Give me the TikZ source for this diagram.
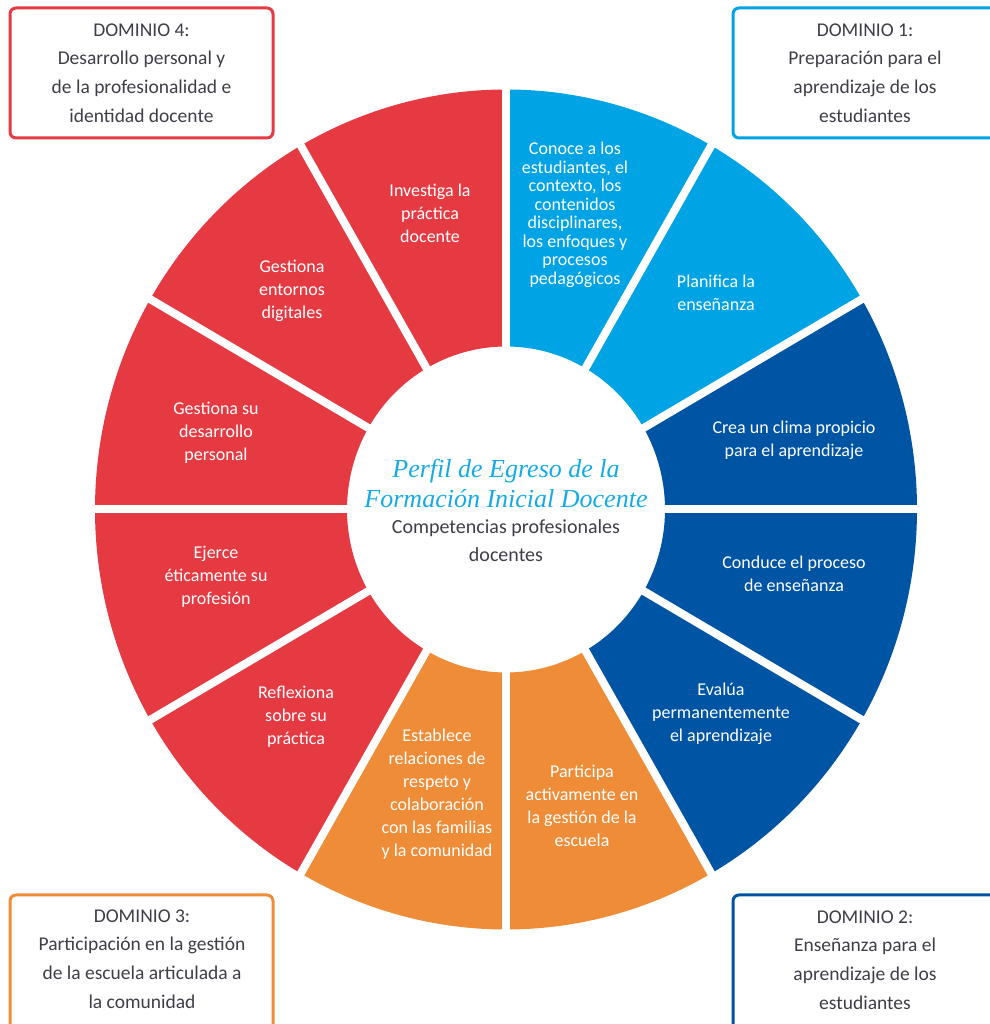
\documentclass[tikz,border=0pt]{standalone}
\usepackage{fontspec}
\setmainfont{Carlito}
\newfontfamily\titlefont{Liberation Serif}
\definecolor{cred}{RGB}{230,58,67}
\definecolor{clblue}{RGB}{0,163,228}
\definecolor{cdblue}{RGB}{0,84,164}
\definecolor{corange}{RGB}{239,140,55}
\definecolor{ctext}{RGB}{62,62,72}
\definecolor{ctitle}{RGB}{20,170,230}
\begin{document}
\begin{tikzpicture}[x=1pt,y=1pt,
  seg/.style={text=white,align=center,font=\fontsize{18}{23}\selectfont,inner sep=0pt},
  segtight/.style={seg,font=\fontsize{18}{18.5}\selectfont},
  dombox/.style={line width=3pt,rounded corners=6pt,fill=white},
  domtext/.style={text=ctext,align=center,font=\fontsize{19.5}{28.7}\selectfont,inner sep=0pt}]
\useasboundingbox (0,0) rectangle (989,1024);
\begin{scope}[shift={(506,514.5)}]
\foreach \s/\c in {0/clblue,1/clblue,2/cdblue,3/cdblue,4/cdblue,5/corange,6/corange,7/cred,8/cred,9/cred,10/cred,11/cred}{
  \pgfmathsetmacro\a{90-30*\s}
  \pgfmathsetmacro\b{60-30*\s}
  \fill[\c] (\a:411 and 420) arc[start angle=\a,end angle=\b,x radius=411,y radius=420]
     -- (\b:159 and 163) arc[start angle=\b,end angle=\a,x radius=159,y radius=163] -- cycle;
}
\foreach \s in {0,...,11}
  \draw[white,line width=8pt] (30*\s:150 and 154) -- (30*\s:420 and 430);
\end{scope}
% segment texts
\node[segtight] (conoce) at (575,809) {Conoce a los\\estudiantes, el\\contexto, los\\contenidos\\disciplinares,\\los enfoques y\\procesos\\pedagógicos};
\node[seg] (planifica) at (716,731) {Planifica la\\enseñanza};
\node[seg] (crea) at (794,584) {Crea un clima propicio\\para el aprendizaje};
\node[seg] (conduce) at (794,450) {Conduce el proceso\\de enseñanza};
\node[seg] (evalua) at (721,310) {Evalúa\\permanentemente\\el aprendizaje};
\node[seg] (participa) at (582,218) {Participa\\activamente en\\la gestión de la\\escuela};
\node[seg] (establece) at (437,230) {Establece\\relaciones de\\respeto y\\colaboración\\con las familias\\y la comunidad};
\node[seg] (reflexiona) at (296,307) {Reflexiona\\sobre su\\práctica};
\node[seg] (ejerce) at (216,447) {Ejerce\\éticamente su\\profesión};
\node[seg] (desarrollo) at (216,591) {Gestiona su\\desarrollo\\personal};
\node[seg] (entornos) at (292,733) {Gestiona\\entornos\\digitales};
\node[seg] (investiga) at (430,811) {Investiga la\\práctica\\docente};
% centre
\node[align=center,inner sep=0pt,text=ctitle,font=\titlefont\itshape\fontsize{26}{30}\selectfont] (title) at (506,541) {Perfil de Egreso de la\\Formación Inicial Docente};
\node[align=center,inner sep=0pt,text=ctext,font=\fontsize{20}{28}\selectfont] (sub) at (506,483) {Competencias profesionales\\docentes};
% domain boxes
\draw[dombox,draw=cred] (10,1016) rectangle (273,886);
\node[domtext] (d4) at (141.5,951) {DOMINIO 4:\\Desarrollo personal y\\de la profesionalidad e\\identidad docente};
\draw[dombox,draw=clblue] (733,1016) rectangle (997,886);
\node[domtext] (d1) at (865,951) {DOMINIO 1:\\Preparación para el\\aprendizaje de los\\estudiantes};
\draw[dombox,draw=corange] (10,129) rectangle (273,-10);
\node[domtext] (d3) at (142,65) {DOMINIO 3:\\Participación en la gestión\\de la escuela articulada a\\la comunidad};
\draw[dombox,draw=cdblue] (733,129) rectangle (997,-10);
\node[domtext] (d2) at (865,64) {DOMINIO 2:\\Enseñanza para el\\aprendizaje de los\\estudiantes};
\end{tikzpicture}
\end{document}
